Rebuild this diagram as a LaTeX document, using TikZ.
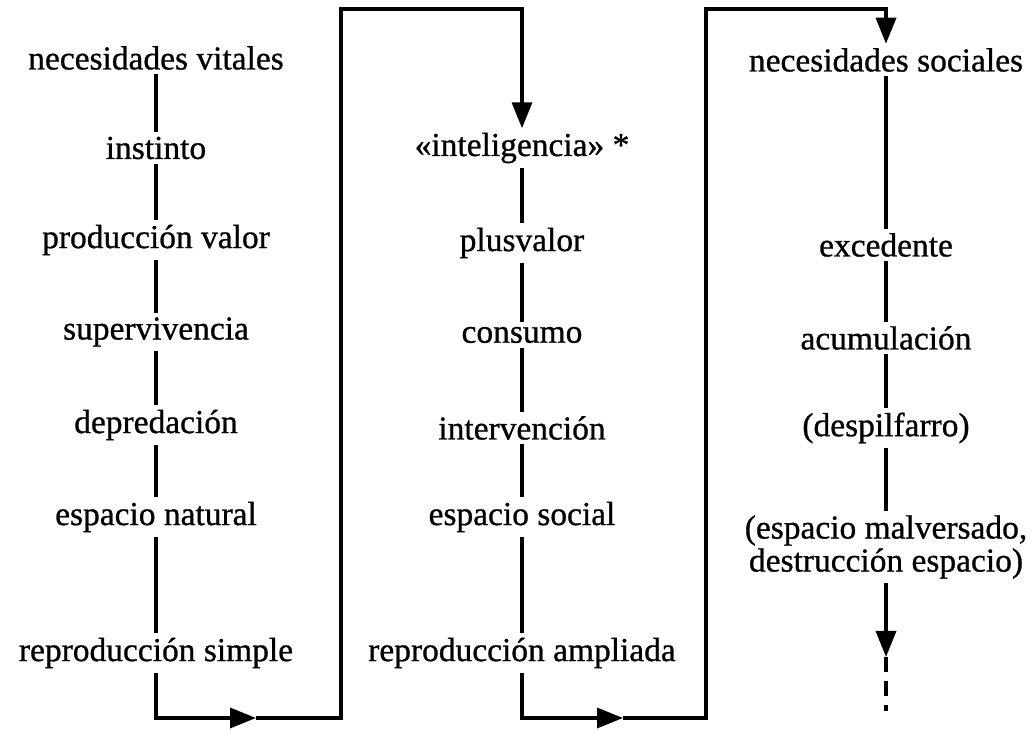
\documentclass[tikz,border=0pt]{standalone}
\usepackage{fontspec}
\setmainfont[FakeBold=0.8]{Liberation Serif}
\usetikzlibrary{arrows.meta}

\tikzset{
  concept/.style={shape=rectangle,draw=none,inner sep=3pt,
    font=\fontsize{23.8}{23.5}\selectfont},
  link/.style={black, line width=2.5pt},
  flow/.style={black, line width=2.5pt},
  arrowhead/.style={-{Triangle[length=0.65cm,width=0.5cm]}},
  openend/.style={dash pattern=on 11pt off 6pt}
}

\begin{document}
\begin{tikzpicture}

\useasboundingbox (0,0) rectangle (25.8,18.275);

%% - Draw texts
%% - --------------------------------------

%% - first column
\node[concept] (vitales) at (3.9,16.825) {necesidades vitales};
\node[concept] (instinto) at (3.9,14.575) {instinto};
\node[concept] (produccion) at (3.9,12.275) {producción valor};
\node[concept] (supervivencia) at (3.9,9.975) {supervivencia};
\node[concept] (depredacion) at (3.9,7.65) {depredación};
\node[concept] (natural) at (3.9,5.35) {espacio natural};
\node[concept] (simple) at (3.9,1.95) {reproducción simple};

%% - second column
\node[concept] (inteligencia) at (13.05,14.575) {«inteligencia» *};
\node[concept] (plusvalor) at (13.05,12.2) {plusvalor};
\node[concept] (consumo) at (13.05,9.9) {consumo};
\node[concept] (intervencion) at (13.05,7.575) {intervención};
\node[concept] (social) at (13.05,5.35) {espacio social};
\node[concept] (ampliada) at (13.05,1.95) {reproducción ampliada};

%% - third column
\node[concept] (sociales) at (22.15,16.775) {necesidades sociales};
\node[concept] (excedente) at (22.15,12.15) {excedente};
\node[concept] (acumulacion) at (22.15,9.825) {acumulación};
\node[concept] (despilfarro) at (22.15,7.575) {(despilfarro)};
\node[concept,align=center] (malversado) at (22.15,4.6) {(espacio malversado,\\destrucción espacio)};

%% - Draw vertical links
%% - --------------------------------------

\draw[link] (vitales) -- (instinto);
\draw[link] (instinto) -- (produccion);
\draw[link] (produccion) -- (supervivencia);
\draw[link] (supervivencia) -- (depredacion);
\draw[link] (depredacion) -- (natural);
\draw[link] (natural) -- (simple);

\draw[link] (inteligencia) -- (plusvalor);
\draw[link] (plusvalor) -- (consumo);
\draw[link] (consumo) -- (intervencion);
\draw[link] (intervencion) -- (social);
\draw[link] (social) -- (ampliada);

\draw[link] (sociales) -- (excedente);
\draw[link] (excedente) -- (acumulacion);
\draw[link] (acumulacion) -- (despilfarro);
\draw[link] (despilfarro) -- (malversado);

%% - Draw loops
%% - --------------------------------------

%% - simple -> inteligencia
\coordinate (mid1) at (6.4,0.325);
\coordinate (low1) at (8.525,0.325);
\coordinate (high1) at (8.525,18.05);
\draw[flow,arrowhead] (simple.south) |- (mid1);
\draw[flow,arrowhead] (mid1) -- (low1) -- (high1) -| (inteligencia.north);

%% - ampliada -> sociales
\coordinate (mid2) at (15.575,0.325);
\coordinate (low2) at (17.65,0.325);
\coordinate (high2) at (17.65,18.05);
\draw[flow,arrowhead] (ampliada.south) |- (mid2);
\draw[flow,arrowhead] (mid2) -- (low2) -- (high2) -| (sociales.north);

%% - open end
\coordinate (tip3) at (22.15,1.85);
\coordinate (free3) at (22.15,0.5);
\draw[flow,arrowhead] (malversado) -- (tip3);
\draw[link,openend] (tip3) -- (free3);

\end{tikzpicture}
\end{document}
